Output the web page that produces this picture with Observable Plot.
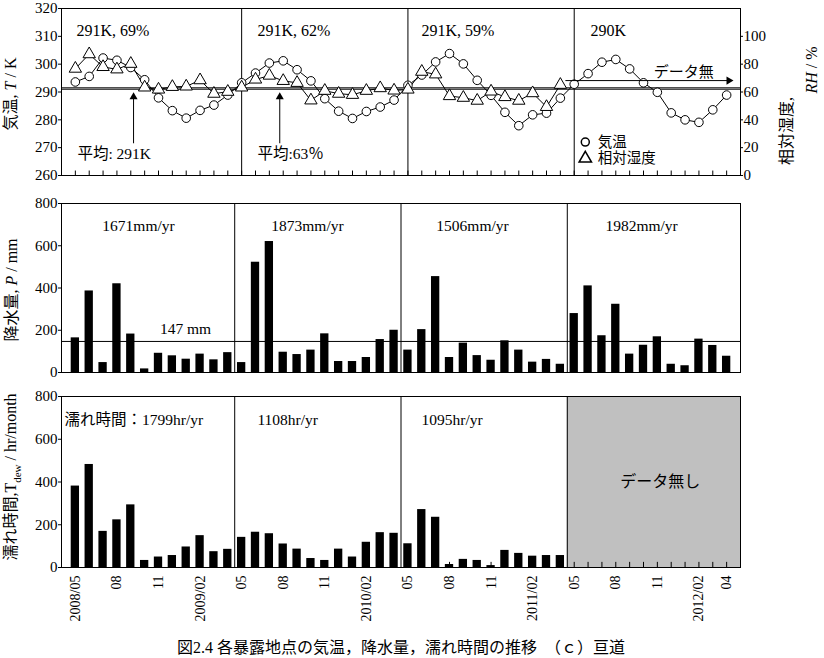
<!DOCTYPE html>
<html>
<head>
<meta charset="utf-8">
<script src="https://cdn.jsdelivr.net/npm/d3@7"></script>
<script src="https://cdn.jsdelivr.net/npm/@observablehq/plot@0.6"></script>
<style>
  html, body { margin: 0; padding: 0; background: white; }
  #wrap { position: relative; width: 824px; height: 658px; overflow: hidden; background: white;
          font-family: 'Liberation Serif', 'Times New Roman', 'DejaVu Serif', 'Noto Sans CJK JP', serif; color: black; }
  .panel { position: absolute; left: 0; }
  .ylab { position: absolute; white-space: nowrap; transform: translate(-50%, -50%) rotate(-90deg);
          font-size: 16px; line-height: 16px; }
  #caption { position: absolute; left: 0; width: 802px; text-align: center; top: 639px;
             font-size: 16px; line-height: 17px; }
</style>
</head>
<body>
<div id="wrap">
  <div class="panel" id="p1" style="top:0px"></div>
  <div class="panel" id="p2" style="top:190px"></div>
  <div class="panel" id="p3" style="top:380px"></div>
  <div class="ylab" style="left:11px; top:94px">気温, <i>T</i> / K</div>
  <div class="ylab" style="left:787px; top:131px">相対湿度,</div>
  <div class="ylab" style="left:812px; top:70px"><i>RH</i> / %</div>
  <div class="ylab" style="left:12px; top:290px">降水量, <i>P</i> / mm</div>
  <div class="ylab" style="left:14px; top:477px">濡れ時間,T<sub style="font-size:11px">dew</sub> / hr/month</div>
  <div id="caption">図2.4 各暴露地点の気温，降水量，濡れ時間の推移　（ｃ）亘道</div>
</div>
<script>
// ---- data (monthly, 2008/05 .. 2012/04) ----
const monthLabels = ["2008/05","08","11","2009/02","05","08","11","2010/02","05","08","11","2011/02","05","08","11","2012/02","04"];
const monthLabelIdx = [0,3,6,9,12,15,18,21,24,27,30,33,36,39,42,45,47];

const tempK = [293.6,295.6,302.2,301.4,298.8,294.4,287.9,283.3,280.6,283.4,285.3,288.9,
               293.3,296.8,300.4,301.2,298.0,294.0,287.6,283.1,280.5,283.0,284.6,287.1,
               292.4,296.1,300.8,303.8,300.1,294.2,288.8,282.7,277.9,281.8,282.4,287.8,
               292.8,296.6,300.7,301.7,298.3,293.3,289.9,282.5,280.0,279.1,283.6,288.9];
const rhPct = [76.8,87.2,78.0,76.3,80.3,63.3,61.8,63.7,64.0,68.5,58.8,60.2,
               63.3,69.0,71.8,68.0,66.6,54.0,60.9,58.8,58.0,60.9,62.8,61.1,
               61.8,74.6,72.7,57.1,55.9,53.8,60.4,56.4,53.8,59.2,49.3,65.2];
const precipMm = [164,386,47,420,182,17,91,79,63,87,60,94,
                  47,522,620,96,85,106,183,52,52,71,156,200,
                  106,203,454,71,139,80,58,150,106,49,62,39,
                  279,410,174,323,87,129,169,39,32,158,128,77];
const wetHr = [381,482,169,223,293,33,49,56,96,149,74,85,
               141,165,158,110,86,42,33,86,49,118,163,160,
               111,271,235,14,38,33,9,80,66,53,56,56];

const meanT = 291, meanRH = 63, meanP = 147;
const climateNotes = ["291K, 69%","291K, 62%","291K, 59%","290K"];
const precipNotes = ["1671mm/yr","1873mm/yr","1506mm/yr","1982mm/yr"];
const wetNotes = ["濡れ時間：1799hr/yr","1108hr/yr","1095hr/yr"];
const tempTicks = [260,270,280,290,300,310,320];
const rhTicks = [0,20,40,60,80,100];
const barTicks = [0,200,400,600,800];

// ---- helpers ----
const FONT = "'Liberation Serif', 'Times New Roman', 'DejaVu Serif', 'Noto Sans CJK JP', serif";
const F = {fontFamily: FONT};
const months = d3.range(48);
const rhToT = v => 260 + v / 2;
const styleOpt = {fontFamily: FONT, fontSize: "15px", color: "black", background: "white", overflow: "visible"};
const base = {width: 824, marginLeft: 61, marginRight: 84, style: styleOpt};

// ---- panel 1: temperature / RH ----
const p1 = Plot.plot({
  ...base, height: 190, marginTop: 8, marginBottom: 15,
  x: {domain: [-1, 48], axis: null},
  y: {domain: [260, 320]},
  marks: [
    Plot.ruleX([12, 24, 36], {stroke: "black"}),
    Plot.ruleX(months, {x: d => d, y1: 260, y2: 261.6, stroke: "black"}),
    Plot.ruleY([meanT, rhToT(meanRH)], {stroke: "black", strokeWidth: 1}),
    Plot.line(tempK, {x: (d, i) => i, y: d => d, stroke: "black", strokeWidth: 1}),
    Plot.line(rhPct, {x: (d, i) => i, y: d => rhToT(d), stroke: "black", strokeWidth: 1}),
    Plot.dot(tempK, {x: (d, i) => i, y: d => d, r: 4.3, fill: "white", stroke: "black", strokeWidth: 1}),
    Plot.dot(rhPct, {x: (d, i) => i, y: d => rhToT(d), symbol: "triangle", r: 4.6, fill: "white", stroke: "black", strokeWidth: 1}),
    // annotations
    Plot.text(climateNotes, {...F, x: (d, i) => [0.08, 13.14, 24.98, 37.18][i], y: 311.8, text: d => d, textAnchor: "start", fontSize: 16}),
    Plot.ruleX([4.2, 14.75], {y1: 271.4, y2: 288.5, stroke: "black"}),
    Plot.dot([4.2, 14.75], {x: d => d, y: 288.2, symbol: "triangle", r: 3, fill: "black", stroke: "none"}),
    Plot.text(["平均: 291K", "平均:63％"], {...F, x: (d, i) => [0.15, 13.14][i], y: 267.8, text: d => d, textAnchor: "start", fontSize: 15.5}),
    Plot.ruleY([294.1], {x1: 35.4, x2: 47.1, stroke: "black"}),
    Plot.dot([47.16], {x: d => d, y: 294.1, symbol: "triangle", rotate: 90, r: 3, fill: "black", stroke: "none"}),
    Plot.text(["データ無"], {...F, x: 43.9, y: 297.2, text: d => d, fontSize: 15}),
    // legend
    Plot.dot(["気温"], {x: 36.8, y: 272.0, r: 4, fill: "white", stroke: "black"}),
    Plot.dot(["相対湿度"], {x: 36.8, y: 266.1, symbol: "triangle", r: 4.6, fill: "white", stroke: "black"}),
    Plot.text(["気温", "相対湿度"], {...F, x: 37.7, y: (d, i) => [272.0, 266.1][i], text: d => d, textAnchor: "start", fontSize: 14.5}),
    Plot.axisY({...F, anchor: "left", ticks: tempTicks, tickSize: 3, tickPadding: 1, fontSize: 15, label: null}),
    Plot.axisY({...F, anchor: "right", ticks: rhTicks.map(rhToT), tickFormat: v => String(Math.round((v - 260) * 2)), tickSize: 2, tickPadding: 1, fontSize: 15, label: null}),
    Plot.frame({stroke: "black"})
  ]
});
document.getElementById("p1").append(p1);

// ---- panel 2: precipitation ----
const p2 = Plot.plot({
  ...base, height: 190, marginTop: 13, marginBottom: 8,
  x: {domain: [-1, 48], axis: null},
  y: {domain: [0, 800]},
  marks: [
    Plot.ruleX([11.5, 23.5, 35.5], {stroke: "black"}),
    Plot.rect(precipMm, {x1: (d, i) => i - 0.3, x2: (d, i) => i + 0.3, y1: 0, y2: d => d, fill: "black"}),
    Plot.ruleY([meanP], {stroke: "black"}),
    Plot.text(precipNotes, {...F, x: (d, i) => [4.56, 16.75, 28.66, 40.86][i], y: 691, text: d => d, fontSize: 15.5}),
    Plot.text([meanP + " mm"], {...F, x: 7.95, y: 208, text: d => d, fontSize: 15.5}),
    Plot.axisY({...F, anchor: "left", ticks: barTicks, tickSize: 3, tickPadding: 1, fontSize: 15, label: null}),
    Plot.frame({stroke: "black"})
  ]
});
document.getElementById("p2").append(p2);

// ---- panel 3: wetness time ----
const labelMap = new Map(monthLabelIdx.map((d, i) => [d, monthLabels[i]]));
const p3 = Plot.plot({
  ...base, height: 250, marginTop: 16, marginBottom: 63,
  x: {domain: [-1, 48]},
  y: {domain: [0, 800]},
  marks: [
    Plot.rect([0], {x1: 35.5, x2: 48, y1: 0, y2: 800, fill: "#c0c0c0"}),
    Plot.ruleX([11.5, 23.5, 35.5], {stroke: "black"}),
    Plot.ruleX(months, {x: d => d, y1: 0, y2: 24, stroke: "black"}),
    Plot.rect(wetHr, {x1: (d, i) => i - 0.3, x2: (d, i) => i + 0.3, y1: 0, y2: d => d, fill: "black"}),
    Plot.text(wetNotes, {...F, x: (d, i) => [-0.78, 13.14, 24.98][i], y: 692, text: d => d, textAnchor: "start", fontSize: 15.5}),
    Plot.text(["データ無し"], {...F, x: 42.2, y: 400, text: d => d, fontSize: 16}),
    Plot.axisY({...F, anchor: "left", ticks: barTicks, tickSize: 3, tickPadding: 1, fontSize: 15, label: null}),
    Plot.axisX({...F, ticks: monthLabelIdx, tickFormat: d => labelMap.get(d), tickRotate: -90, tickSize: 0, tickPadding: 8, fontSize: 14, label: null}),
    Plot.frame({stroke: "black"})
  ]
});
document.getElementById("p3").append(p3);
</script>
</body>
</html>
